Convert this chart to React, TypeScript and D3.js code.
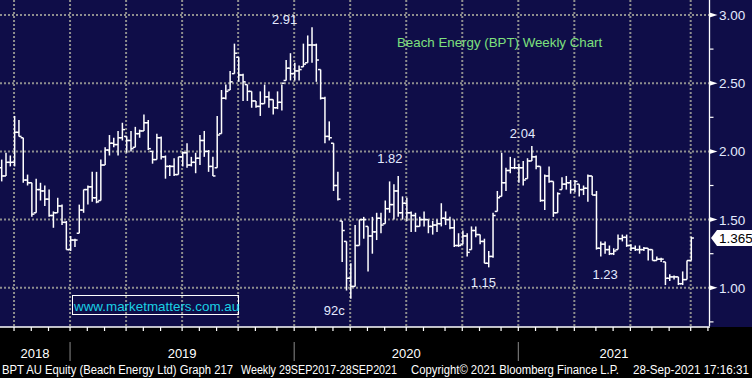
import React from "react";
import * as d3 from "d3";

// Weekly OHLC (Beach Energy, BPT), one entry per week
const highs = [1.94,1.99,1.97,2.26,2.23,2.10,1.83,1.77,1.80,1.77,1.75,1.72,1.56,1.66,1.61,1.49,1.38,1.36,1.61,1.72,
1.75,1.85,1.85,1.94,2.03,2.12,2.10,2.15,2.21,2.11,2.15,2.18,2.16,2.27,2.23,2.00,2.13,2.11,1.97,1.90,
1.95,1.96,2.00,2.06,1.96,1.99,2.12,2.15,2.01,1.96,2.26,2.45,2.49,2.59,2.79,2.69,2.57,2.49,2.44,2.37,
2.44,2.49,2.44,2.38,2.44,2.49,2.67,2.72,2.65,2.63,2.79,2.85,2.91,2.79,2.60,2.40,2.22,2.06,1.85,1.49,
1.34,1.18,1.46,1.50,1.52,1.45,1.52,1.55,1.55,1.64,1.78,1.76,1.82,1.67,1.66,1.56,1.55,1.52,1.56,1.50,
1.49,1.50,1.62,1.56,1.52,1.50,1.40,1.42,1.40,1.45,1.45,1.39,1.36,1.27,1.55,1.71,1.99,1.88,1.96,1.95,
1.91,1.93,1.95,2.04,1.97,1.89,1.83,1.89,1.78,1.70,1.81,1.82,1.79,1.79,1.76,1.75,1.83,1.82,1.71,1.34,
1.34,1.31,1.29,1.39,1.39,1.39,1.32,1.31,1.31,1.30,1.29,1.28,1.23,1.22,1.19,1.10,1.09,1.08,1.12,1.20,1.375];
const lows = [1.78,1.82,1.89,1.89,2.11,1.77,1.75,1.52,1.55,1.64,1.60,1.52,1.44,1.55,1.46,1.28,1.27,1.30,1.40,1.55,
1.61,1.63,1.62,1.64,1.90,1.97,2.03,1.97,2.08,1.99,2.00,2.03,2.10,2.15,2.01,1.91,1.94,1.94,1.80,1.82,
1.82,1.83,1.89,1.88,1.89,1.84,1.90,1.96,1.85,1.82,1.88,2.13,2.38,2.45,2.57,2.51,2.37,2.37,2.32,2.32,
2.26,2.35,2.32,2.27,2.31,2.30,2.52,2.52,2.52,2.52,2.62,2.65,2.65,2.51,2.38,2.06,2.08,1.71,1.64,1.19,
0.98,0.92,1.01,1.31,1.36,1.12,1.25,1.35,1.40,1.47,1.55,1.50,1.52,1.50,1.49,1.41,1.41,1.45,1.45,1.40,
1.39,1.41,1.45,1.46,1.43,1.30,1.30,1.32,1.23,1.28,1.37,1.32,1.18,1.15,1.22,1.56,1.67,1.71,1.84,1.87,
1.77,1.75,1.80,1.93,1.87,1.63,1.57,1.77,1.52,1.55,1.72,1.72,1.69,1.70,1.67,1.68,1.63,1.68,1.28,1.23,
1.25,1.24,1.24,1.28,1.34,1.30,1.27,1.27,1.25,1.27,1.20,1.20,1.20,1.19,1.02,1.05,1.06,1.02,1.02,1.06,1.20];
const opens = [1.88,1.82,1.92,1.92,2.14,2.10,1.79,1.77,1.55,1.72,1.71,1.65,1.53,1.55,1.60,1.48,1.28,1.35,1.40,1.57,
1.72,1.74,1.66,1.64,1.90,2.01,2.06,2.05,2.10,2.11,2.08,2.03,2.13,2.15,2.21,2.00,1.94,2.10,1.96,1.89,
1.89,1.83,1.96,1.99,1.90,1.92,1.95,2.08,2.00,1.89,1.88,2.13,2.39,2.45,2.57,2.69,2.56,2.49,2.44,2.37,
2.33,2.35,2.40,2.38,2.32,2.36,2.52,2.61,2.57,2.59,2.62,2.65,2.78,2.78,2.60,2.39,2.11,2.06,1.75,1.49,
1.34,1.07,1.01,1.31,1.50,1.45,1.38,1.41,1.51,1.47,1.58,1.61,1.71,1.55,1.62,1.55,1.53,1.45,1.50,1.50,
1.45,1.46,1.47,1.51,1.50,1.44,1.31,1.32,1.38,1.28,1.42,1.39,1.34,1.18,1.23,1.56,1.67,1.77,1.86,1.88,
1.88,1.88,1.80,1.93,1.96,1.89,1.64,1.82,1.78,1.55,1.72,1.76,1.77,1.72,1.76,1.72,1.73,1.82,1.68,1.29,
1.32,1.28,1.25,1.28,1.36,1.37,1.31,1.29,1.28,1.28,1.29,1.28,1.20,1.21,1.19,1.07,1.08,1.08,1.03,1.06,1.20];
const closes = [1.82,1.92,1.92,2.14,2.11,1.79,1.77,1.54,1.72,1.71,1.65,1.53,1.55,1.60,1.48,1.28,1.35,1.35,1.57,1.72,
1.74,1.66,1.63,1.90,2.01,2.06,2.05,2.10,2.16,2.08,2.02,2.13,2.15,2.21,2.02,1.94,2.10,1.96,1.89,1.89,
1.83,1.96,1.99,1.90,1.92,1.95,2.08,2.00,1.89,1.82,2.12,2.39,2.44,2.51,2.72,2.56,2.51,2.44,2.37,2.33,
2.35,2.40,2.38,2.32,2.36,2.50,2.61,2.57,2.59,2.60,2.64,2.78,2.78,2.67,2.39,2.11,2.10,1.75,1.65,1.42,
1.07,1.01,1.31,1.50,1.50,1.38,1.41,1.51,1.46,1.58,1.61,1.71,1.55,1.62,1.55,1.53,1.45,1.50,1.50,1.45,
1.46,1.47,1.51,1.50,1.44,1.31,1.31,1.38,1.26,1.42,1.39,1.34,1.18,1.23,1.53,1.66,1.77,1.86,1.88,1.88,
1.88,1.79,1.93,1.96,1.89,1.64,1.82,1.78,1.55,1.69,1.76,1.77,1.72,1.78,1.72,1.73,1.82,1.68,1.29,1.32,
1.28,1.25,1.27,1.36,1.37,1.31,1.29,1.28,1.28,1.29,1.28,1.20,1.21,1.21,1.07,1.08,1.08,1.03,1.06,1.20,1.365];

// axis / grid definitions
const priceTicks = [1.0, 1.5, 2.0, 2.5, 3.0];
const priceMinorTicks = [0.75, 1.25, 1.75, 2.25, 2.75];
const quarterIdx = [3, 16, 29, 42, 55, 68, 81, 94, 107, 120, 133, 146, 160];
const monthIdx = [3,7,11,16,20,24,29,33,37,42,46,50,55,59,64,68,73,77,81,85,89,94,98,103,107,111,116,120,124,129,133,138,142,146,151,155,160,164];
const yearLabels = ["2018", "2019", "2020", "2021"];
const yearStartIdx = [16, 68, 120];
const annotations = [
  { text: "2.91", idx: 72, price: 2.91, dx: -40, dy: -3 },
  { text: "1.82", idx: 92, price: 1.82, dx: -21, dy: -13 },
  { text: "2.04", idx: 123, price: 2.04, dx: -22, dy: -8 },
  { text: "92c", idx: 81, price: 0.92, dx: -27, dy: 16 },
  { text: "1.15", idx: 113, price: 1.15, dx: -18, dy: 20 },
  { text: "1.23", idx: 141, price: 1.24, dx: -17, dy: 24 },
];
const lastPrice = 1.365;

const W = 752, H = 378;
const plotBottom = 327;
const axisX = 709.5;

export default function App() {
  const x = d3.scaleLinear().domain([0, 160]).range([1.7, 691.3]);
  const y = d3.scaleLinear().domain([1, 3]).range([287.8, 15]);
  const tick = 2.6;
  const grid = "#8e8e8e";
  const yearEdges = [0, ...yearStartIdx.map((i) => x(i) - 0.6), axisX];

  return (
    <div style={{ position: "fixed", left: 0, top: 0 }}>
      <svg width={W} height={H} style={{ display: "block" }} fontFamily="'Liberation Sans', Arial, sans-serif">
        <rect x={0} y={0} width={W} height={H} fill="#000" />
        <rect x={0} y={0} width={W} height={plotBottom} fill="#0f0d48" />

        {/* gridlines */}
        {priceTicks.map((p) => (
          <line key={"h" + p} x1={0} x2={axisX} y1={y(p)} y2={y(p)} stroke={grid} strokeWidth={2} strokeDasharray="2 2" />
        ))}
        {quarterIdx.map((q) => (
          <line key={"v" + q} x1={x(q) - 0.6} x2={x(q) - 0.6} y1={0} y2={plotBottom} stroke={grid} strokeWidth={2} strokeDasharray="2 2" />
        ))}

        {/* OHLC bars */}
        <g stroke="#fff" strokeWidth={1.5}>
          {highs.map((h, i) => {
            const cx = x(i);
            return (
              <g key={i}>
                <line x1={cx} x2={cx} y1={y(h)} y2={y(lows[i])} />
                <line x1={cx - tick} x2={cx} y1={y(opens[i])} y2={y(opens[i])} />
                <line x1={cx} x2={cx + tick} y1={y(closes[i])} y2={y(closes[i])} />
              </g>
            );
          })}
        </g>

        {/* annotations */}
        {annotations.map((a) => (
          <text key={a.text} x={x(a.idx) + a.dx} y={y(a.price) + a.dy} fill="#e4eaff" fontSize={13}>
            {a.text}
          </text>
        ))}

        <text x={397} y={47} fill="#7ee07e" fontSize={13.3}>Beach Energy (BPT) Weekly Chart</text>

        <rect x={72.5} y={295.5} width={166} height={19} fill="none" stroke="#fff" strokeWidth={1} />
        <text x={74} y={311} fill="#1ad0e4" fontSize={13.4}>www.marketmatters.com.au</text>

        {/* right axis */}
        <line x1={axisX} x2={axisX} y1={0} y2={plotBottom - 1} stroke="#fff" strokeWidth={1.3} />
        {priceMinorTicks.map((p) => (
          <line key={"m" + p} x1={axisX} x2={axisX + 4} y1={y(p)} y2={y(p)} stroke="#fff" strokeWidth={1.2} />
        ))}
        {priceTicks.map((p) => (
          <g key={"t" + p}>
            <path d={`M${axisX},${y(p) - 2.5}L${axisX + 8},${y(p)}L${axisX},${y(p) + 2.5}Z`} fill="#fff" />
            <text x={719} y={y(p) + 5} fill="#e4eaff" fontSize={13.5}>{d3.format(".2f")(p)}</text>
          </g>
        ))}
        <path
          d={`M711,${y(lastPrice)}L717,${y(lastPrice) - 8}H752V${y(lastPrice) + 8}H717Z`}
          fill="#fff"
        />
        <text x={719} y={y(lastPrice) + 5} fill="#000" fontSize={13.5}>{lastPrice.toFixed(3)}</text>

        {/* bottom axis */}
        <line x1={0} x2={axisX + 0.5} y1={plotBottom} y2={plotBottom} stroke="#fff" strokeWidth={1.5} />
        {monthIdx.map((m) => (
          <line key={"b" + m} x1={x(m) - 0.6} x2={x(m) - 0.6} y1={plotBottom} y2={plotBottom + 4} stroke="#fff" strokeWidth={1.2} />
        ))}
        {yearStartIdx.map((i) => (
          <line key={"ys" + i} x1={x(i) - 0.6} x2={x(i) - 0.6} y1={342} y2={361} stroke="#8a8a8a" strokeWidth={1} />
        ))}
        {yearLabels.map((lbl, k) => (
          <text key={lbl} x={(yearEdges[k] + yearEdges[k + 1]) / 2} y={358} fill="#fff" fontSize={13}
            textAnchor="middle" fontFamily="'Liberation Sans Narrow', 'Arial Narrow', sans-serif">{lbl}</text>
        ))}

        <g fill="#fff" fontSize={12} fontFamily="'Liberation Sans Narrow', 'Arial Narrow', sans-serif">
          <text x={2} y={374} textLength={231} lengthAdjust="spacingAndGlyphs">BPT AU Equity (Beach Energy Ltd) Graph 217</text>
          <text x={241} y={374} textLength={156} lengthAdjust="spacingAndGlyphs">Weekly 29SEP2017-28SEP2021</text>
          <text x={411} y={374} textLength={208} lengthAdjust="spacingAndGlyphs">Copyright© 2021 Bloomberg Finance L.P.</text>
          <text x={633} y={374} textLength={116} lengthAdjust="spacingAndGlyphs">28-Sep-2021 17:16:31</text>
        </g>
      </svg>
    </div>
  );
}
